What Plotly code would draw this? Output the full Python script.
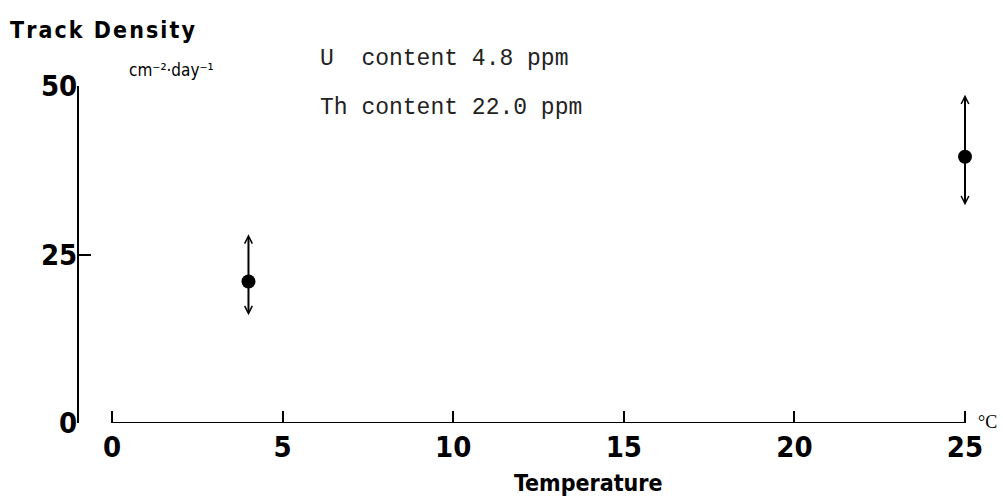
import plotly.graph_objects as go

# ---- data ----
temperature = [4, 25]
track_density = [21.0, 39.5]
err_high = [28.0, 48.7]
err_low = [16.0, 32.3]
x_ticks = [0, 5, 10, 15, 20, 25]
y_ticks = [0, 25, 50]
info_lines = ["U  content 4.8 ppm", "Th content 22.0 ppm"]

COND = "Liberation Sans Narrow, DejaVu Sans Condensed, Arial Narrow, sans-serif"
MONO = "Liberation Mono, DejaVu Sans Mono, monospace"

W, H = 1003, 503
L, R, T, B = 79, 18, 86, 80
x0_px, x25_px = 112, 965
ppu = (x25_px - x0_px) / (x_ticks[-1] - x_ticks[0])
xmin = x_ticks[0] - (x0_px - L) / ppu
xmax = xmin + (W - L - R) / ppu
PW, PH = W - L - R, H - T - B


def px(xp):
    return (xp - L) / PW


def py(yp):
    return (H - B - yp) / PH


fig = go.Figure()

# x axis line only over the tick span
fig.add_trace(go.Scatter(x=[x_ticks[0], x_ticks[-1]], y=[y_ticks[0], y_ticks[0]],
                         mode="lines", line=dict(color="black", width=2),
                         hoverinfo="skip", showlegend=False, cliponaxis=False))

fig.add_trace(go.Scatter(x=temperature, y=track_density, mode="markers",
                         marker=dict(color="black", size=14),
                         showlegend=False, cliponaxis=False))

# error arrows
for xv, yv, hi, lo in zip(temperature, track_density, err_high, err_low):
    for end in (hi, lo):
        fig.add_annotation(x=xv, y=end, ax=xv, ay=yv, xref="x", yref="y",
                           axref="x", ayref="y", text="", showarrow=True,
                           arrowhead=5, arrowsize=0.75, arrowwidth=2,
                           arrowcolor="black")

fig.update_xaxes(range=[xmin, xmax], tickvals=x_ticks, ticktext=[str(v) for v in x_ticks],
                 ticks="inside", ticklen=12, tickwidth=1.5, tickcolor="black",
                 showline=False, showgrid=False, zeroline=False,
                 tickfont=dict(family=COND, size=29, color="black", weight="bold"),
                 ticklabelstandoff=4)
fig.update_yaxes(range=[y_ticks[0], y_ticks[-1]], tickvals=y_ticks,
                 ticktext=[str(v) for v in y_ticks],
                 ticks="inside", ticklen=12, tickwidth=1.5, tickcolor="black",
                 showline=True, linecolor="black", linewidth=2,
                 showgrid=False, zeroline=False,
                 tickfont=dict(family=COND, size=29, color="black", weight="bold"),
                 ticklabelstandoff=-6)

fig.add_annotation(x=px(8), y=py(30), xref="paper", yref="paper", yanchor="middle",
                   xanchor="left", text="<b>" + "\u200a".join("Track Density") + "</b>",
                   showarrow=False, font=dict(family=COND, size=23, color="black"))
fig.add_annotation(x=px(588), y=py(483), xref="paper", yref="paper",
                   xanchor="center", yanchor="middle",
                   text="<b>Temperature</b>",
                   showarrow=False, font=dict(family=COND, size=23, color="black"))
fig.add_annotation(x=px(127), y=py(70), xref="paper", yref="paper",
                   xanchor="left", yanchor="middle", text="cm\u207b\u00b2\u00b7day\u207b\u00b9",
                   showarrow=False, font=dict(family=COND, size=17, color="black"))
fig.add_annotation(x=px(999), y=py(422), xref="paper", yref="paper",
                   xanchor="right", yanchor="middle", text="\u00b0C",
                   showarrow=False, font=dict(family="Liberation Serif, serif", size=18, color="black"))
for i, line in enumerate(info_lines):
    yc = [59, 108][i]
    fig.add_annotation(x=px(318), y=py(yc), xref="paper", yref="paper",
                       xanchor="left", yanchor="middle", text=line.replace(" ", "\u00a0"),
                       showarrow=False, font=dict(family=MONO, size=23, color="#222"))

fig.update_layout(width=W, height=H, margin=dict(l=L, r=R, t=T, b=B),
                  plot_bgcolor="white", paper_bgcolor="white", showlegend=False)

fig.write_html("out.html")
